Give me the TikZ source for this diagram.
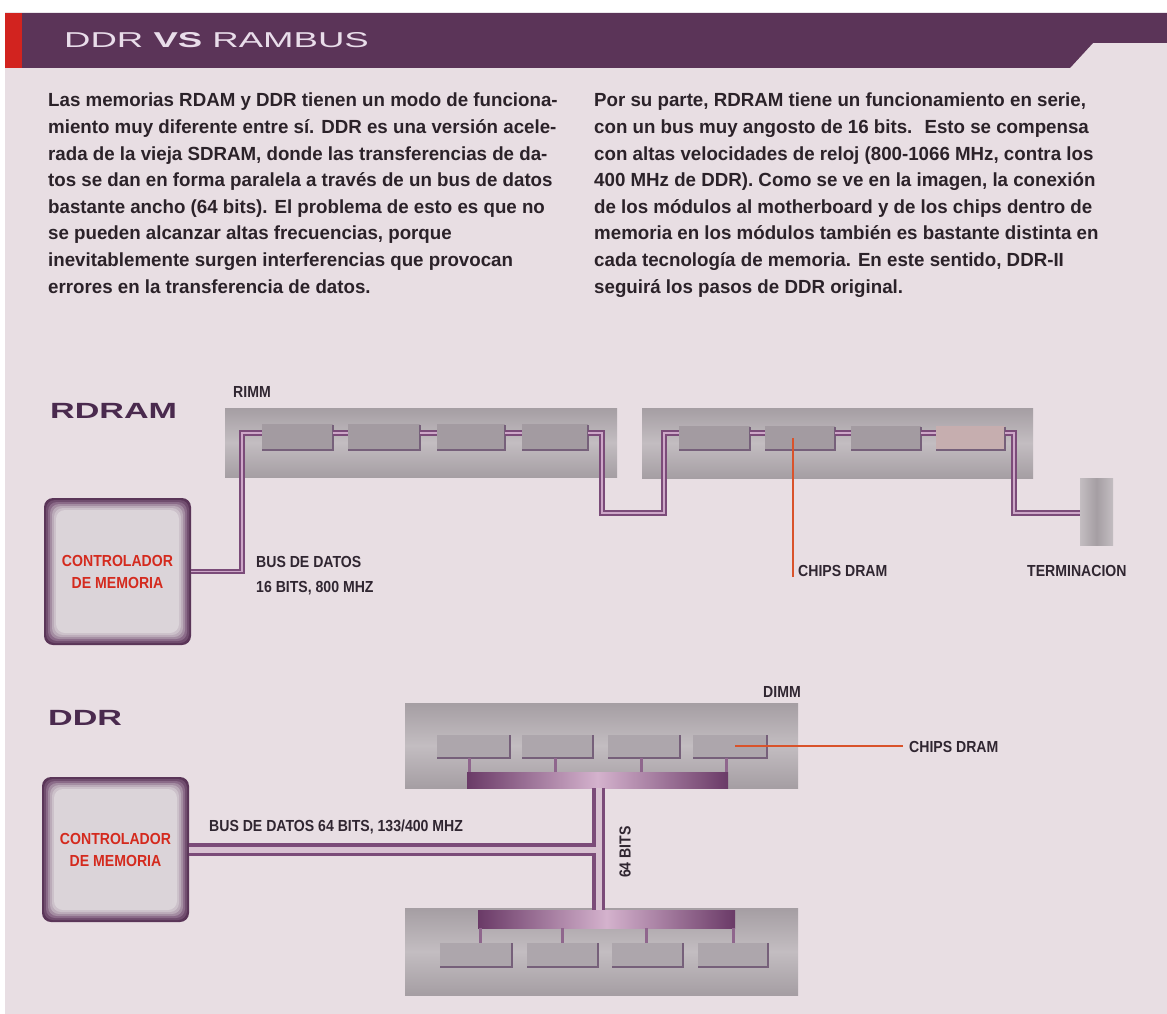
\documentclass[tikz,border=0pt]{standalone}
\usepackage{fontspec}
\setmainfont{Liberation Sans}
\newfontfamily\bodyf[FakeStretch=0.985]{Liberation Sans}
\newfontfamily\labf[FakeStretch=0.88]{Liberation Sans}
\newfontfamily\widef[FakeStretch=1.55]{Liberation Sans}
\newfontfamily\titlef[FakeStretch=1.7]{Liberation Sans}
\definecolor{pagebg}{HTML}{E8DEE3}
\definecolor{hdr}{HTML}{5B3458}
\definecolor{redstripe}{HTML}{D2231F}
\definecolor{titletxt}{HTML}{E9DDEA}
\definecolor{bodytxt}{HTML}{2B2229}
\definecolor{labtxt}{HTML}{302631}
\definecolor{headlab}{HTML}{4A2A4E}
\definecolor{ctrltxt}{HTML}{D42A1E}
\definecolor{boardA}{HTML}{A59EA3}
\definecolor{boardB}{HTML}{C3BDC1}
\definecolor{chipfill}{HTML}{A39BA1}
\definecolor{chipfillB}{HTML}{ADA6AC}
\definecolor{chipedge}{HTML}{76607A}
\definecolor{chippink}{HTML}{C6AEAF}
\definecolor{trOut}{HTML}{7B4B79}
\definecolor{trIn}{HTML}{CDA7C8}
\definecolor{busLight}{HTML}{D8C2D2}
\definecolor{barDark}{HTML}{6A3A67}
\definecolor{barLight}{HTML}{D4B2CD}
\definecolor{leadc}{HTML}{D9532B}
\definecolor{cb0}{HTML}{5A3558}
\definecolor{cb1}{HTML}{704D6E}
\definecolor{cb2}{HTML}{8A6A88}
\definecolor{cb3}{HTML}{A48DA2}
\definecolor{cb4}{HTML}{BBABB9}
\definecolor{cb5}{HTML}{CCC1CA}
\definecolor{cb6}{HTML}{DBD4D9}
\begin{document}
\begin{tikzpicture}[x=1pt,y=-1pt,
  box/.style={rectangle, inner sep=0pt, outer sep=0pt, anchor=north west},
  board/.style={box, top color=boardA, bottom color=boardA, middle color=boardB},
  chip/.style={box, fill=chipfill},
  chipB/.style={box, fill=chipfillB},
  edgeline/.style={draw=chipedge, line width=1.6pt},
  termbox/.style={box, left color=boardB, right color=boardB, middle color=boardA},
  bar/.style={box, left color=barDark, right color=barDark, middle color=barLight},
  ctrlbox/.style={rectangle, inner sep=0pt, outer sep=0pt},
  ctrltext/.style={align=center, text=ctrltxt, font=\labf\bfseries\fontsize{16}{22}\selectfont},
  lab/.style={inner sep=0pt, text=labtxt, font=\labf\bfseries\fontsize{16}{25}\selectfont},
  headl/.style={inner sep=0pt, anchor=west, text=headlab, font=\widef\bfseries\fontsize{22}{22}\selectfont},
  bodytext/.style={inner sep=0pt, anchor=north west, align=left, text=bodytxt, font=\bodyf\bfseries\fontsize{19}{26.6}\selectfont},
  trace/.style={draw=trIn, line width=1.4pt, preaction={draw=trOut, line width=5.5pt}},
  busout/.style={draw=trOut, line width=13pt},
  busin/.style={draw=busLight, line width=6pt},
  stub/.style={draw=trOut!85, line width=3pt},
  leader/.style={draw=leadc, line width=1.3pt}
]
\useasboundingbox (0,0) rectangle (1167,1014);
\fill[white] (0,0) rectangle (1167,1014);
\fill[pagebg] (5,13) rectangle (1167,1014);

% header
\fill[hdr] (5,13) -- (1167,13) -- (1167,43) -- (1093,43) -- (1070,68) -- (5,68) -- cycle;
\fill[redstripe] (5,13) rectangle (22,68);
\node[inner sep=0pt, anchor=west, text=titletxt, font=\titlef\fontsize{21.5}{21.5}\selectfont] (title) at (64,40) {DDR \textbf{VS} RAMBUS};

% body text
\node[bodytext] (colL) at (48,93) {Las memorias RDAM y DDR tienen un modo de funciona-\\
miento muy diferente entre sí. DDR es una versión acele-\\
rada de la vieja SDRAM, donde las transferencias de da-\\
tos se dan en forma paralela a través de un bus de datos\\
bastante ancho (64 bits). El problema de esto es que no\\
se pueden alcanzar altas frecuencias, porque\\
inevitablemente surgen interferencias que provocan\\
errores en la transferencia de datos.};
\node[bodytext] (colR) at (594,93) {Por su parte, RDRAM tiene un funcionamiento en serie,\\
con un bus muy angosto de 16 bits.~ Esto se compensa\\
con altas velocidades de reloj (800-1066 MHz, contra los\\
400 MHz de DDR). Como se ve en la imagen, la conexión\\
de los módulos al motherboard y de los chips dentro de\\
memoria en los módulos también es bastante distinta en\\
cada tecnología de memoria. En este sentido, DDR-II\\
seguirá los pasos de DDR original.};

% ================= RDRAM =================
\node[headl] (rdram) at (50,411) {RDRAM};
\node[lab, anchor=west] (rimm) at (233,392) {RIMM};
\node[board, minimum width=392pt, minimum height=69pt] (rimmA) at (225,408) {};
\node[board, minimum width=391pt, minimum height=70pt] (rimmB) at (642,408) {};
\node[termbox, minimum width=33pt, minimum height=67pt] (term) at (1080,478) {};

% controller RDRAM
\node[ctrlbox, minimum width=147pt, minimum height=147pt] (ctrlA) at (117.5,571.5) {};
\foreach \d/\c in {0/cb0,2/cb1,4/cb2,6/cb3,8/cb4,10/cb5,12/cb6}
  \fill[\c, rounded corners=9pt] ([shift={(\d,\d)}]ctrlA.north west) rectangle ([shift={(-\d,-\d)}]ctrlA.south east);
\node[ctrltext] (ctrlAt) at (ctrlA.center) {CONTROLADOR\\DE MEMORIA};

% traces
\coordinate (tA) at (242,433);
\coordinate (uA) at (602,513);
\coordinate (uB) at (664,433);
\coordinate (uC) at (1014,513);
\node[chip, minimum width=71pt, minimum height=26pt] (a1) at (262,424) {};
\node[chip, minimum width=72pt, minimum height=26pt] (a2) at (348,424) {};
\node[chip, minimum width=68pt, minimum height=26pt] (a3) at (437,424) {};
\node[chip, minimum width=66pt, minimum height=26pt] (a4) at (522,424) {};
\node[chip, minimum width=71pt, minimum height=24pt] (b1) at (679,426) {};
\node[chip, minimum width=70pt, minimum height=24pt] (b2) at (765,426) {};
\node[chip, minimum width=70pt, minimum height=24pt] (b3) at (851,426) {};
\node[chip, fill=chippink, minimum width=69pt, minimum height=24pt] (b4) at (936,426) {};
\foreach \n in {a1,a2,a3,a4,b1,b2,b3,b4}
  \draw[edgeline] ([yshift=-1pt]\n.north east) -- (\n.south east) -- (\n.south west);

\draw[trace] (ctrlA.east) -| (tA) -- (a1.west |- tA);
\draw[trace] (a1.east |- tA) -- (a2.west |- tA);
\draw[trace] (a2.east |- tA) -- (a3.west |- tA);
\draw[trace] (a3.east |- tA) -- (a4.west |- tA);
\draw[trace] (a4.east |- tA) -| (uA) -| (uB) -- (b1.west |- uB);
\draw[trace] (b1.east |- tA) -- (b2.west |- tA);
\draw[trace] (b2.east |- tA) -- (b3.west |- tA);
\draw[trace] (b3.east |- tA) -- (b4.west |- tA);
\draw[trace] (b4.east |- tA) -| (uC) -- (term.west |- uC);

\node[lab, align=left, anchor=west] (busA) at (256,575.5) {BUS DE DATOS\\16 BITS, 800 MHZ};
\node[lab, anchor=west] (lblA) at (798,571) {CHIPS DRAM};
\node[lab, anchor=west] (termlbl) at (1027,571) {TERMINACION};
\coordinate (pA) at (793,438);
\draw[leader] (pA) -- (pA |- lblA.south);

% ================= DDR =================
\node[headl] (ddr) at (48,718) {DDR};
\node[lab, anchor=west] (dimm) at (763,692) {DIMM};
\node[board, minimum width=393pt, minimum height=85pt] (dimmA) at (405,703) {};
\node[board, minimum width=393pt, minimum height=87pt] (dimmB) at (405,908) {};
\node[chipB, minimum width=73pt, minimum height=23pt] (c1) at (437,735) {};
\node[chipB, minimum width=71pt, minimum height=23pt] (c2) at (522,735) {};
\node[chipB, minimum width=72pt, minimum height=23pt] (c3) at (608,735) {};
\node[chipB, minimum width=74pt, minimum height=23pt] (c4) at (693,735) {};
\node[chipB, minimum width=72pt, minimum height=24pt] (d1) at (440,943) {};
\node[chipB, minimum width=71pt, minimum height=24pt] (d2) at (527,943) {};
\node[chipB, minimum width=71pt, minimum height=24pt] (d3) at (612,943) {};
\node[chipB, minimum width=70pt, minimum height=24pt] (d4) at (698,943) {};
\foreach \n in {c1,c2,c3,c4,d1,d2,d3,d4}
  \draw[edgeline] (\n.north east) -- (\n.south east) -- (\n.south west);
\node[bar, minimum width=261pt, minimum height=16pt] (barA) at (467,772) {};
\node[bar, minimum width=257pt, minimum height=18pt] (barB) at (478,910) {};
% stubs
\draw[stub] ([xshift=2pt]barA.north west) -- ([xshift=2pt]barA.north west |- c1.south);
\draw[stub] (barA.north -| 555,0) -- (c2.south -| 555,0);
\draw[stub] (barA.north -| 641,0) -- (c3.south -| 641,0);
\draw[stub] ([xshift=-2pt]barA.north east) -- ([xshift=-2pt]barA.north east |- c4.south);
\draw[stub] ([xshift=2pt]barB.south west) -- ([xshift=2pt]barB.south west |- d1.north);
\draw[stub] (barB.south -| 562,0) -- (d2.north -| 562,0);
\draw[stub] (barB.south -| 646,0) -- (d3.north -| 646,0);
\draw[stub] ([xshift=-2pt]barB.south east) -- ([xshift=-2pt]barB.south east |- d4.north);

% controller DDR
\node[ctrlbox, minimum width=147pt, minimum height=145pt] (ctrlB) at (115.5,849.5) {};
\foreach \d/\c in {0/cb0,2/cb1,4/cb2,6/cb3,8/cb4,10/cb5,12/cb6}
  \fill[\c, rounded corners=9pt] ([shift={(\d,\d)}]ctrlB.north west) rectangle ([shift={(-\d,-\d)}]ctrlB.south east);
\node[ctrltext] (ctrlBt) at (ctrlB.center) {CONTROLADOR\\DE MEMORIA};

% buses
\coordinate (jn) at (598.5,849.5);
\draw[busout] (ctrlB.east) -- (jn);
\draw[busout] (barA.south -| jn) -- (barB.north -| jn);
\draw[busin] (ctrlB.east) -- (jn);
\draw[busin] (barA.south -| jn) -- (barB.north -| jn);

\node[lab, anchor=west] (busB) at (209,827) {BUS DE DATOS 64 BITS, 133/400 MHZ};
\node[lab, rotate=90] (bits) at (625,852) {64 BITS};
\node[lab, anchor=west] (lblB) at (909,747) {CHIPS DRAM};
\coordinate (pB) at (735,746);
\draw[leader, shorten >=6pt] (pB) -- (pB -| lblB.west);
\end{tikzpicture}
\end{document}
